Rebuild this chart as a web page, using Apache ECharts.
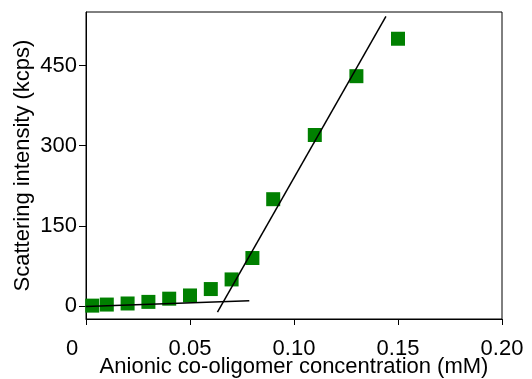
<!DOCTYPE html>
<html>
<head>
<meta charset="utf-8">
<script src="https://cdn.jsdelivr.net/npm/echarts@6/dist/echarts.min.js"></script>
<style>
  html, body { margin: 0; padding: 0; background: #fff; }
  #chart { width: 532px; height: 379px; }
</style>
</head>
<body>
<div id="chart"></div>
<script>
// measured points (concentration mM, intensity kcps)
const conc = [0.003, 0.01, 0.02, 0.03, 0.04, 0.05, 0.06, 0.07, 0.08, 0.09, 0.11, 0.13, 0.15];
const intensity = [1, 3, 5, 8, 14, 20, 32, 50, 90, 200, 320, 430, 500];
// the two fitted lines, end points only
const lowFit = [[0, -0.5], [0.0785, 10]];
const highFit = [[0.0632, -11], [0.1442, 542]];
const yTicks = [0, 150, 300, 450];

const font = "Liberation Sans, Arial, sans-serif";
const chart = echarts.init(document.querySelector("#chart"));

chart.setOption({
  animation: false,
  grid: {
    left: 86, right: 30, top: 12, bottom: 60,
    outerBoundsMode: "none",
    containLabel: false,
    show: true, borderColor: "#000", borderWidth: 1, backgroundColor: "transparent"
  },
  xAxis: {
    type: "value",
    min: 0, max: 0.2, interval: 0.05,
    name: "Anionic co-oligomer concentration (mM)",
    nameLocation: "middle",
    nameGap: 37,
    nameMoveOverlap: false,
    nameTextStyle: { fontFamily: font, fontSize: 22, color: "#000" },
    axisLine: { onZero: false, lineStyle: { color: "#000", width: 1 } },
    axisTick: { length: 6, lineStyle: { color: "#000" } },
    splitLine: { show: false },
    axisLabel: {
      margin: 19,
      fontFamily: font, fontSize: 22, color: "#000",
      formatter: v => v === 0 ? "{z|0}" : v.toFixed(2),
      rich: { z: { fontFamily: font, fontSize: 22, color: "#000", padding: [0, 28, 0, 0] } }
    }
  },
  yAxis: {
    type: "value",
    min: -24, max: 550,
    name: "Scattering intensity (kcps)",
    nameLocation: "middle",
    nameGap: 52,
    nameMoveOverlap: false,
    nameTextStyle: { fontFamily: font, fontSize: 22, color: "#000" },
    axisLine: { show: true, onZero: false, lineStyle: { color: "#000", width: 1 } },
    axisTick: { show: true, length: 7, customValues: yTicks, lineStyle: { color: "#000" } },
    splitLine: { show: false },
    axisLabel: {
      margin: 9, customValues: yTicks,
      fontFamily: font, fontSize: 22, color: "#000"
    }
  },
  series: [
    {
      type: "scatter",
      symbol: "rect",
      symbolSize: 14,
      itemStyle: { color: "#008000", opacity: 1 },
      data: conc.map((c, i) => [c, intensity[i]]),
      z: 2
    },
    {
      type: "line",
      data: lowFit,
      showSymbol: false,
      lineStyle: { color: "#000", width: 1.5 },
      z: 3
    },
    {
      type: "line",
      data: highFit,
      showSymbol: false,
      lineStyle: { color: "#000", width: 1.5 },
      z: 3
    }
  ]
});
</script>
</body>
</html>
